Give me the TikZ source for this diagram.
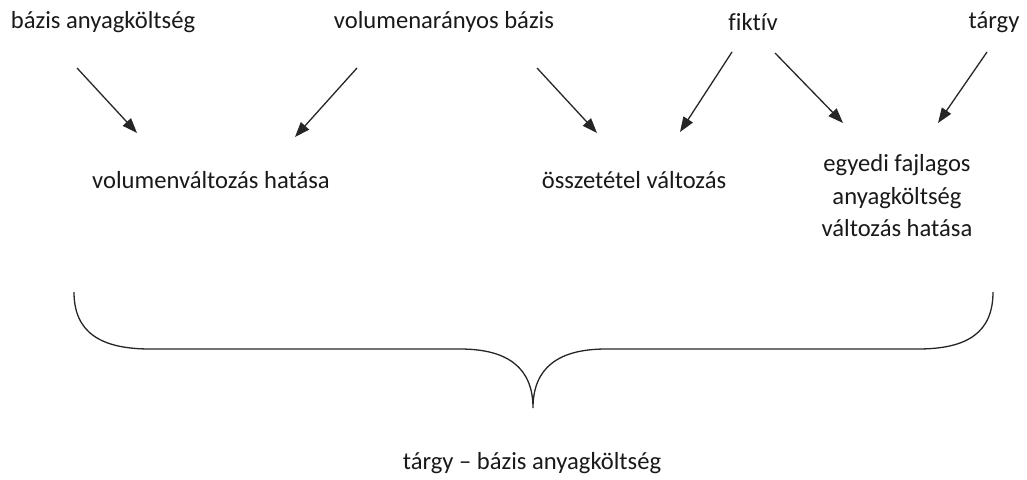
\documentclass[tikz,border=0pt]{standalone}
\usepackage{fontspec}
\setmainfont[Ligatures={NoCommon}]{Carlito}
\usetikzlibrary{arrows.meta}
\begin{document}
\begin{tikzpicture}[x=1pt,y=-1pt,
  lbl/.style={inner sep=0pt,font=\fontsize{24.6}{32.5}\selectfont,text=black!90,align=center},
  arr/.style={line width=1.3pt,draw=black!85,-{Triangle[length=15pt,width=11pt]}},
  brace/.style={line width=1.3pt,draw=black!85}]
\useasboundingbox (0,0) rectangle (1027,479);
% top labels
\node[lbl] (bak) at (103,22) {bázis anyagköltség};
\node[lbl] (vb) at (444,22) {volumenarányos bázis};
\node[lbl] (fik) at (753,22) {fiktív};
\node[lbl] (tar) at (994,22) {tárgy};
% middle labels
\node[lbl] (vvh) at (211,180) {volumenváltozás hatása};
\node[lbl] (ov) at (634,180) {összetétel változás};
\node[lbl] (efa) at (897,196) {egyedi fajlagos\\anyagköltség\\változás hatása};
% bottom label
\node[lbl] (res) at (532,463) {tárgy – bázis anyagköltség};
% arrow end points
\coordinate (a1s) at (77,68);  \coordinate (a1e) at (137,133);
\coordinate (a2s) at (357,68); \coordinate (a2e) at (295,137);
\coordinate (a3s) at (537,68); \coordinate (a3e) at (597,133);
\coordinate (a4s) at (732,52); \coordinate (a4e) at (680,132);
\coordinate (a5s) at (775,53); \coordinate (a5e) at (843,123);
\coordinate (a6s) at (987,52); \coordinate (a6e) at (938,123);
\draw[arr] (a1s) -- (a1e);
\draw[arr] (a2s) -- (a2e);
\draw[arr] (a3s) -- (a3e);
\draw[arr] (a4s) -- (a4e);
\draw[arr] (a5s) -- (a5e);
\draw[arr] (a6s) -- (a6e);
% brace
\coordinate (bl) at (74,292);
\coordinate (bt) at (533,408);
\coordinate (br) at (993,292);
\draw[brace] (bl) .. controls (74,332) and (100,349) .. (150,349)
  -- (460,349) .. controls (508,349) and (533,368) .. (bt)
  .. controls (533,368) and (558,349) .. (606,349)
  -- (918,349) .. controls (968,349) and (993,332) .. (br);
\end{tikzpicture}
\end{document}
